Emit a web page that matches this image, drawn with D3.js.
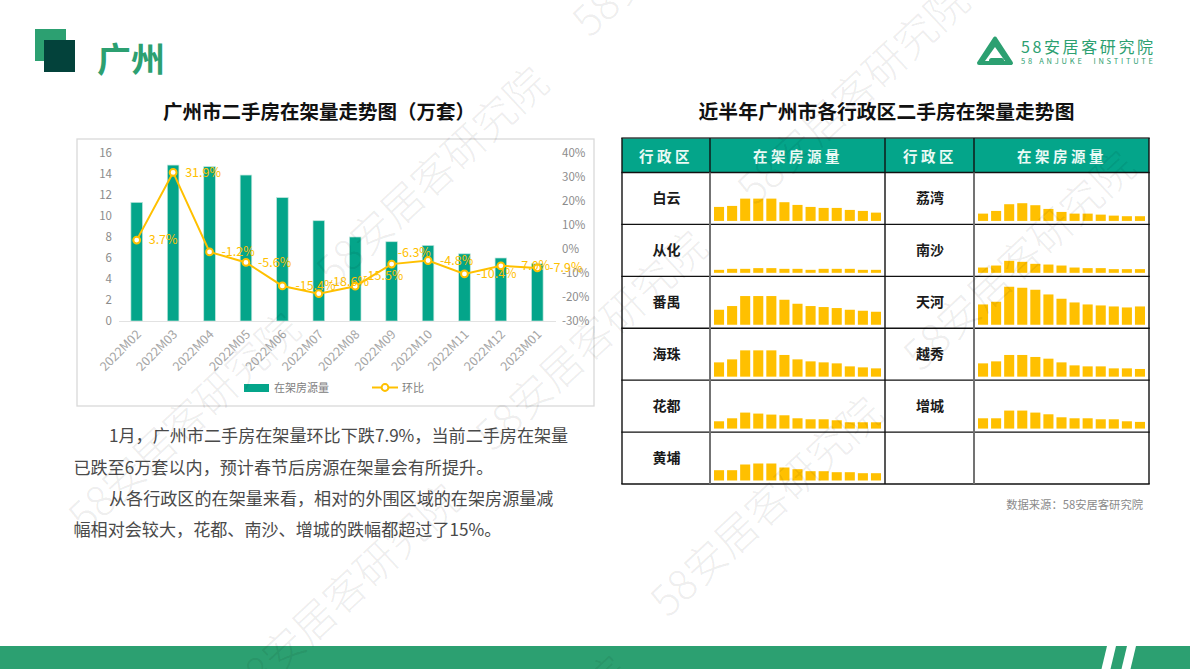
<!DOCTYPE html>
<html>
<head>
<meta charset="utf-8">
<script src="https://cdn.jsdelivr.net/npm/d3@7"></script>
<style>
  html, body { margin: 0; padding: 0; background: #fff; }
  svg { display: block; }
  text { font-family: "Noto Sans CJK SC", "Noto Sans", sans-serif; }
</style>
</head>
<body>
<svg id="chart" width="1190" height="669"></svg>
<script>
const months = ["2022M02", "2022M03", "2022M04", "2022M05", "2022M06", "2022M07", "2022M08", "2022M09", "2022M10", "2022M11", "2022M12", "2023M01"];
const listings = [11.3, 14.85, 14.7, 13.9, 11.75, 9.55, 8.0, 7.55, 7.2, 6.4, 6.0, 5.45];
const momChange = [3.7, 31.9, -1.2, -5.6, -15.4, -18.6, -15.5, -6.3, -4.8, -10.4, -7.0, -7.9];
const leftTicks = [0, 2, 4, 6, 8, 10, 12, 14, 16];
const rightTicks = [-30, -20, -10, 0, 10, 20, 30, 40];

// sparkline values, no axis in the source so the unit is only relative
const baiyun = [14, 15, 22.3, 22.3, 22.3, 18.7, 16, 14, 13, 13, 11, 10, 8.3];
const conghua = [3, 4, 4, 4.7, 4.7, 4, 4, 3, 4, 4, 4, 3, 3];
const panyu = [15, 18.7, 28.7, 28.7, 28.7, 25, 21, 18.7, 17.7, 16.7, 15, 14, 13];
const haizhu = [14.3, 17.3, 26.3, 26.3, 26.3, 21.7, 17.3, 15.3, 14.3, 13.3, 10.3, 9.3, 8.3];
const huadu = [7.3, 10.3, 16, 15, 14, 13.3, 10.3, 9.3, 9.3, 8.3, 6.3, 6.3, 6.3];
const huangpu = [10.3, 10.3, 16, 17, 17, 13, 11.3, 9.3, 9.3, 8.3, 8.3, 7.3, 7.3];
const liwan = [7.3, 10, 16.7, 17.7, 15.7, 12, 9, 7.3, 7.3, 6.3, 5.3, 4.7, 4.7];
const nansha = [5.3, 7.3, 12, 11, 9, 8.3, 7.3, 5.3, 4.7, 4.7, 3.7, 3.7, 3.7];
const tianhe = [20.3, 23, 38, 37, 35, 30.3, 26, 22.3, 20.3, 19.3, 18.3, 17.3, 18.3];
const yuexiu = [13.3, 15.3, 21.7, 21.7, 19.7, 18, 14.3, 11.3, 10.3, 10.3, 8.3, 8.3, 7.7];
const zengcheng = [10.3, 10.3, 18, 18, 16, 14.3, 11.3, 10.3, 10.3, 9.3, 9.3, 7.3, 6.7];

const leftNames = ["白云", "从化", "番禺", "海珠", "花都", "黄埔"];
const leftSeries = [baiyun, conghua, panyu, haizhu, huadu, huangpu];
const rightNames = ["荔湾", "南沙", "天河", "越秀", "增城", ""];
const rightSeries = [liwan, nansha, tianhe, yuexiu, zengcheng, []];

const bodyLines = [
  "1月，广州市二手房在架量环比下跌7.9%，当前二手房在架量",
  "已跌至6万套以内，预计春节后房源在架量会有所提升。",
  "从各行政区的在架量来看，相对的外围区域的在架房源量减",
  "幅相对会较大，花都、南沙、增城的跌幅都超过了15%。"
];

const GREEN = "#2ca071";
const TEAL = "#04a58a";
const GOLD = "#ffc000";

const svg = d3.select("#chart");

// page furniture
svg.append("rect").attr("x", 35).attr("y", 29).attr("width", 31).attr("height", 32).attr("fill", GREEN);
svg.append("rect").attr("x", 44).attr("y", 40).attr("width", 31).attr("height", 32).attr("fill", "#03423b");
svg.append("text").attr("x", 97).attr("y", 72).attr("font-size", 34).attr("font-weight", 700).attr("fill", GREEN).text("广州");

svg.append("rect").attr("x", 0).attr("y", 646).attr("width", 1190).attr("height", 23).attr("fill", GREEN);
svg.selectAll(".slash").data([1107, 1127]).enter().append("path")
  .attr("fill", "#fff")
  .attr("d", (d) => `M${d},646 h9 l-5.5,23 h-9 z`);

// logo
const logo = svg.append("g");
logo.append("path").attr("d", "M995,38.5 L1011,63 L979,63 Z").attr("fill", GREEN).attr("stroke", GREEN).attr("stroke-width", 4).attr("stroke-linejoin", "round");
logo.append("path").attr("d", "M995,47 L1005,61 L985,61 Z").attr("fill", "#fff");
logo.append("rect").attr("x", 989).attr("y", 58).attr("width", 15).attr("height", 7).attr("rx", 2.5).attr("fill", GREEN);
logo.append("text").attr("x", 1021).attr("y", 53).attr("font-size", 16).attr("fill", GREEN).attr("textLength", 132).text("58安居客研究院");
logo.append("text").attr("x", 1021).attr("y", 64).attr("font-size", 7.5).attr("fill", GREEN).attr("textLength", 132).attr("xml:space", "preserve").text("58 ANJUKE  INSTITUTE");

svg.append("text").attr("x", 163).attr("y", 119).attr("font-size", 19.5).attr("font-weight", 700).attr("fill", "#111").text("广州市二手房在架量走势图（万套）");
svg.append("text").attr("x", 886.5).attr("y", 119).attr("text-anchor", "middle").attr("font-size", 19.8).attr("font-weight", 700).attr("fill", "#111").text("近半年广州市各行政区二手房在架量走势图");

// combo chart
svg.append("rect").attr("x", 77).attr("y", 139).attr("width", 517).attr("height", 267)
  .attr("fill", "none").attr("stroke", "#d9d9d9").attr("stroke-width", 1.3);

const x = d3.scaleBand().domain(months).range([118.5, 555.5]);
const yLeft = d3.scaleLinear().domain([0, 16]).range([321, 153]);
const yRight = d3.scaleLinear().domain([-30, 40]).range([321, 153]);
const cx = (d) => x(d) + x.bandwidth() / 2;

const axisColor = "#8c8c8c";

svg.append("g")
  .attr("transform", "translate(114,0)")
  .call(d3.axisLeft(yLeft).tickValues(leftTicks).tickSize(0).tickPadding(2))
  .call((g) => g.select(".domain").remove())
  .call((g) => g.selectAll("text").attr("font-size", 11.5).attr("fill", axisColor));

svg.append("g")
  .attr("transform", "translate(560,0)")
  .call(d3.axisRight(yRight).tickValues(rightTicks).tickFormat((d) => d + "%").tickSize(0).tickPadding(2))
  .call((g) => g.select(".domain").remove())
  .call((g) => g.selectAll("text").attr("font-size", 11.5).attr("fill", axisColor));

svg.selectAll(".bar").data(months).enter().append("rect")
  .attr("class", "bar")
  .attr("x", (d) => cx(d) - 5.8)
  .attr("width", 11.6)
  .attr("y", (d, i) => yLeft(listings[i]))
  .attr("height", (d, i) => yLeft(0) - yLeft(listings[i]))
  .attr("fill", TEAL)
  .attr("stroke", "#bfe6dd")
  .attr("stroke-width", 0.7);

const xAxis = svg.append("g")
  .attr("transform", "translate(0,321)")
  .call(d3.axisBottom(x).tickSize(0).tickPadding(0));
xAxis.select(".domain").attr("stroke", "#e2e2e2").attr("stroke-width", 1.2);
xAxis.selectAll("text")
  .attr("font-size", 12.5)
  .attr("fill", "#a6a6a6")
  .attr("text-anchor", "end")
  .attr("transform", "translate(2,11) rotate(-45)")
  .attr("dy", "0.35em");

const line = d3.line().x((d, i) => cx(months[i])).y((d) => yRight(d)).curve(d3.curveLinear);
svg.append("path").datum(momChange).attr("d", line).attr("fill", "none").attr("stroke", GOLD).attr("stroke-width", 2);

svg.selectAll(".dot").data(momChange).enter().append("circle")
  .attr("class", "dot")
  .attr("cx", (d, i) => cx(months[i]))
  .attr("cy", (d) => yRight(d))
  .attr("r", 3.4)
  .attr("fill", "#fff")
  .attr("stroke", GOLD)
  .attr("stroke-width", 2);

// some labels were dragged off their points in the original
const labelDx = [12, 12, 12, 12, 13, 10, 8, 6, 12, 12, 16, 12];
const labelDy = [0, 0, 0, 0, 0, -12, -11, -11, 0, 0, 0, 0];
svg.selectAll(".lab").data(momChange).enter().append("text")
  .attr("class", "lab")
  .attr("x", (d, i) => cx(months[i]) + labelDx[i])
  .attr("y", (d, i) => yRight(d) + labelDy[i])
  .attr("dy", "0.35em")
  .attr("font-size", 12.5)
  .attr("fill", GOLD)
  .text((d) => d.toFixed(1) + "%");

// legend
svg.append("rect").attr("x", 244).attr("y", 384).attr("width", 25).attr("height", 8).attr("fill", TEAL);
svg.append("text").attr("x", 274).attr("y", 392).attr("font-size", 11).attr("fill", "#808080").text("在架房源量");
svg.append("line").attr("x1", 372).attr("x2", 398).attr("y1", 387.5).attr("y2", 387.5).attr("stroke", GOLD).attr("stroke-width", 2);
svg.append("circle").attr("cx", 385).attr("cy", 387.5).attr("r", 3.4).attr("fill", "#fff").attr("stroke", GOLD).attr("stroke-width", 2);
svg.append("text").attr("x", 402).attr("y", 392).attr("font-size", 11).attr("fill", "#808080").text("环比");

// paragraph
const bodyX = [109, 73.5, 109, 73.5];
const bodyY = [442, 474, 505, 536];
svg.selectAll(".body").data(bodyLines).enter().append("text")
  .attr("class", "body")
  .attr("x", (d, i) => bodyX[i])
  .attr("y", (d, i) => bodyY[i])
  .attr("font-size", 17.1)
  .attr("fill", "#4a4a4a")
  .text((d) => d);

// table
const colEdges = [622, 710, 885, 974, 1149];
const tableTop = 138;
const headBottom = 172.5;
const tableBottom = 484;
const rowY = d3.scaleBand().domain(d3.range(6)).range([headBottom, tableBottom]);

svg.append("rect").attr("x", colEdges[0]).attr("y", tableTop).attr("width", colEdges[4] - colEdges[0]).attr("height", headBottom - tableTop).attr("fill", TEAL);

[[666, "行政区"], [798, "在架房源量"], [930, "行政区"], [1062, "在架房源量"]].forEach((h) => {
  svg.append("text").attr("x", h[0]).attr("y", 161.5).attr("text-anchor", "middle")
    .attr("font-size", 14.5).attr("font-weight", 700).attr("letter-spacing", 3.5).attr("fill", "#eafaf5").text(h[1]);
});

function drawColumn(names, series, nameX, barStart) {
  const sx = d3.scaleBand().domain(d3.range(13)).range([barStart, barStart + 170]).paddingInner(0.23).paddingOuter(0.115);
  const sy = d3.scaleLinear().domain([0, 40]).range([0, 40]);
  names.forEach((name, r) => {
    const base = rowY(r) + rowY.bandwidth() - 3.5;
    svg.append("text").attr("x", nameX).attr("y", rowY(r) + rowY.bandwidth() / 2)
      .attr("dy", "0.35em").attr("text-anchor", "middle").attr("font-size", 14).attr("font-weight", 700).attr("fill", "#1a1a1a").text(name);
    svg.selectAll(null).data(series[r]).enter().append("rect")
      .attr("x", (d, i) => sx(i))
      .attr("width", sx.bandwidth())
      .attr("y", (d) => base - sy(d))
      .attr("height", (d) => sy(d))
      .attr("fill", GOLD);
  });
}
drawColumn(leftNames, leftSeries, 666.5, 712.5);
drawColumn(rightNames, rightSeries, 930, 976.5);

// rules on top of the fills
d3.range(7).forEach((r) => {
  const yy = r === 6 ? tableBottom : rowY(r);
  svg.append("line").attr("x1", colEdges[0] - 0.7).attr("x2", colEdges[4] + 0.7).attr("y1", yy).attr("y2", yy).attr("stroke", "#111").attr("stroke-width", 1.4);
});
svg.append("line").attr("x1", colEdges[0] - 0.7).attr("x2", colEdges[4] + 0.7).attr("y1", tableTop).attr("y2", tableTop).attr("stroke", "#444").attr("stroke-width", 1.4);
colEdges.forEach((e, k) => {
  svg.append("line").attr("x1", e).attr("x2", e).attr("y1", tableTop).attr("y2", tableBottom)
    .attr("stroke", "#111").attr("stroke-width", 1.4);
  if (k === 1 || k === 3) {
    svg.append("line").attr("x1", e).attr("x2", e).attr("y1", headBottom).attr("y2", tableBottom)
      .attr("stroke", "#777").attr("stroke-width", 1.8);
  }
});

svg.append("text").attr("x", 1143).attr("y", 509).attr("text-anchor", "end").attr("font-size", 11.3).attr("fill", "#8a8a8a").text("数据来源：58安居客研究院");

// watermark
const stamps = [[580, 28], [324, 278], [745, 196], [76, 524], [483, 442], [911, 362], [658, 608], [236, 695], [404, 867]];
svg.selectAll(".stamp").data(stamps).enter().append("text")
  .attr("class", "stamp")
  .attr("transform", (d) => `translate(${d[0]},${d[1]}) rotate(-43)`)
  .attr("dy", "0.35em")
  .attr("font-size", 42)
  .attr("font-weight", 300)
  .attr("fill", "rgba(0,0,0,0.075)")
  .style("pointer-events", "none")
  .text("58安居客研究院");
</script>
</body>
</html>
